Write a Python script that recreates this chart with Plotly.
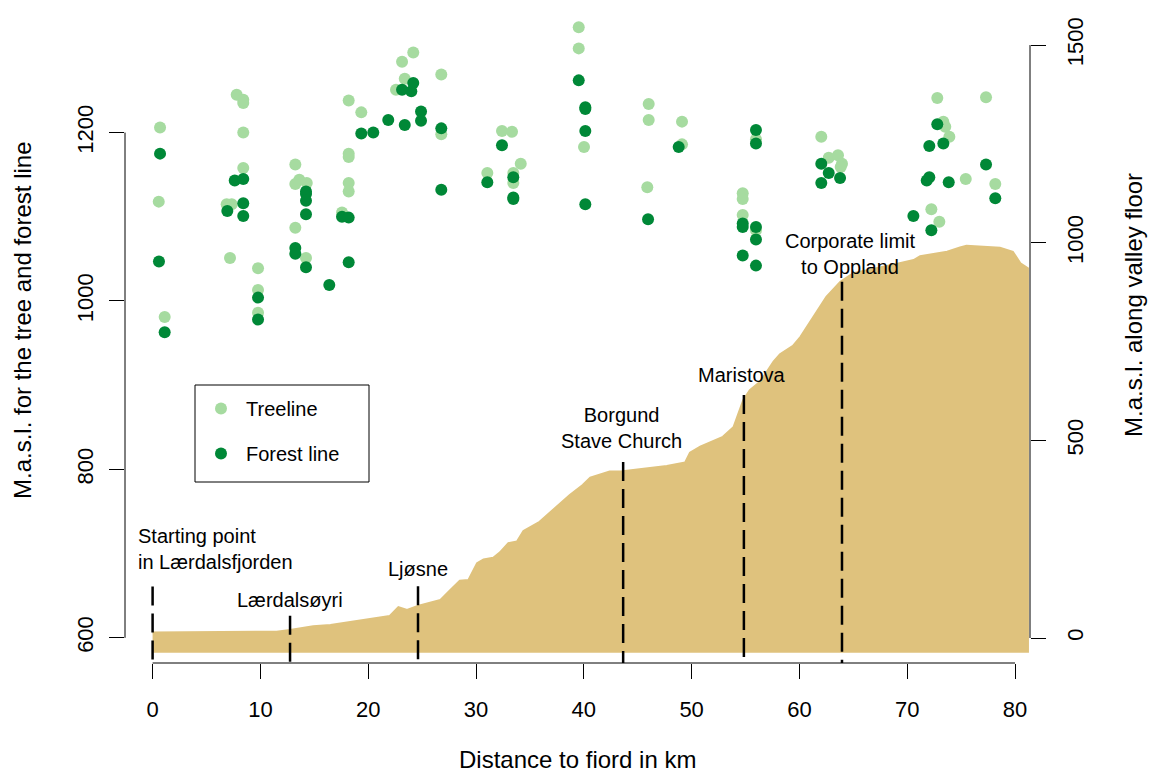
import plotly.graph_objects as go

# ---------------- data ----------------
tree_km = [0.69, 0.57, 1.12, 7.80, 8.41, 8.41, 8.41, 8.41, 6.87, 7.34, 7.18, 9.78, 9.78, 9.78,
           13.24, 13.61, 13.24, 14.30, 13.24, 14.23, 18.19, 19.36, 18.19, 18.19, 18.19, 18.19, 17.57,
           23.14, 24.18, 23.39, 22.58, 26.78, 26.78, 32.41, 33.34, 34.15, 31.05, 33.46, 33.46,
           39.53, 39.53, 40.02, 46.02, 46.02, 49.11, 49.11, 45.89, 54.74, 54.74, 54.74, 55.97, 55.97,
           62.03, 62.72, 63.58, 63.95, 63.83, 72.79, 73.35, 73.53, 73.91, 77.31, 75.43, 78.17,
           72.24, 72.98]
tree_m = [1206, 1118, 981, 1245, 1239, 1235, 1200, 1158, 1115, 1115, 1051, 1039, 1013, 986,
          1162, 1144, 1139, 1140, 1087, 1051, 1238, 1224, 1175, 1171, 1140, 1130, 1105,
          1284, 1295, 1264, 1251, 1269, 1198, 1202, 1201, 1163, 1152, 1152, 1140,
          1325, 1300, 1183, 1234, 1215, 1213, 1186, 1135, 1128, 1121, 1102, 1192, 1084,
          1195, 1170, 1173, 1163, 1159, 1241, 1213, 1207, 1195, 1242, 1145, 1139,
          1109, 1094]

forest_km = [0.69, 0.59, 1.12, 7.62, 8.41, 6.93, 8.41, 8.41, 9.78, 9.78,
             14.23, 14.23, 14.23, 14.23, 13.24, 13.24, 14.23, 16.39, 17.57, 18.19, 18.19,
             19.36, 20.47, 21.86, 23.39, 23.14, 24.00, 24.18, 24.90, 24.90, 26.78, 26.78,
             32.41, 31.05, 33.46, 33.46, 33.46, 39.53, 40.14, 40.14, 40.14, 40.14,
             48.80, 45.96, 55.97, 55.97, 54.74, 54.74, 55.97, 55.97, 54.74, 55.97,
             62.03, 62.72, 62.03, 63.77, 72.79, 72.05, 73.35, 72.05, 71.81, 73.85,
             77.31, 78.17, 70.57, 72.24]
forest_m = [1175, 1047, 963, 1143, 1145, 1107, 1116, 1101, 1004, 978,
            1130, 1127, 1119, 1103, 1063, 1056, 1040, 1019, 1100, 1099, 1046,
            1199, 1200, 1215, 1209, 1251, 1249, 1259, 1225, 1214, 1205, 1132,
            1185, 1141, 1147, 1123, 1121, 1262, 1230, 1228, 1202, 1115,
            1183, 1097, 1203, 1187, 1092, 1088, 1088, 1073, 1054, 1042,
            1163, 1152, 1140, 1146, 1210, 1184, 1187, 1147, 1143, 1141,
            1162, 1122, 1101, 1084]

# valley floor profile (distance km, metres above sea level)
floor_km = [0.0, 11.5, 12.75, 14.9, 16.5, 19.5, 22.0, 22.8, 23.6, 24.6, 26.7, 27.6, 28.5, 29.3,
            30.1, 30.7, 31.6, 32.2, 33.0, 33.8, 34.4, 35.9, 37.8, 38.7, 39.9, 40.6, 42.4, 43.6,
            47.7, 49.4, 49.85, 50.8, 52.9, 53.9, 54.8, 55.4, 56.35, 57.6, 58.2, 59.4, 60.1,
            61.3, 62.5, 63.8, 65.0, 69.3, 70.6, 71.2, 73.7, 74.9, 75.5, 78.6, 79.8, 80.5, 81.2]
floor_m = [14, 16, 20, 30, 33, 45, 56, 78, 71, 81, 96, 121, 145, 147,
           189, 199, 203, 216, 240, 244, 271, 294, 341, 362, 387, 406, 421, 422,
           435, 444, 469, 484, 509, 534, 602, 627, 648, 699, 718, 739, 762,
           811, 863, 901, 923, 948, 956, 966, 977, 988, 992, 987, 977, 948, 935]
floor_base = -35

site_names = ["Starting point<br>in Lærdalsfjorden", "Lærdalsøyri", "Ljøsne",
              "Borgund<br>Stave Church", "Maristova", "Corporate limit<br>to Oppland", "Tyinnkrysset"]
site_km = [0.0, 12.75, 24.62, 43.65, 54.85, 63.95]
site_line_top = [130, 56, 131, 445, 615, 901]

x_ticks = [0, 10, 20, 30, 40, 50, 60, 70, 80]
left_ticks = [600, 800, 1000, 1200]
right_ticks = [0, 500, 1000, 1500]

# ---------------- layout constants ----------------
TREE_COL = "#A6DBA0"
FOREST_COL = "#008837"
FLOOR_COL = "#DFC27D"
FONT = "Liberation Sans, Arial, Helvetica, sans-serif"

XR = [-2.56, 81.39]
YR = [570.07, 1333.7]
Y2R = [-63.24, 1563.4]

fig = go.Figure()

fig.add_trace(go.Scatter(
    x=floor_km + floor_km[::-1], y=floor_m + [floor_base] * len(floor_km),
    mode="lines", fill="toself", fillcolor=FLOOR_COL,
    line=dict(color=FLOOR_COL, width=2), yaxis="y2", showlegend=False, hoverinfo="skip"))

fig.add_trace(go.Scatter(
    x=tree_km, y=tree_m, mode="markers", name="Treeline", legendgroup="a",
    marker=dict(color=TREE_COL, size=12, line=dict(width=0))))
fig.add_trace(go.Scatter(
    x=forest_km, y=forest_m, mode="markers", name="Forest line", legendgroup="b",
    marker=dict(color=FOREST_COL, size=12, line=dict(width=0))))

shapes = []
# axis lines (R style: only between first and last tick)
shapes.append(dict(type="line", xref="x", yref="paper", x0=x_ticks[0], x1=x_ticks[-1], y0=0, y1=0,
                   line=dict(color="black", width=1)))
shapes.append(dict(type="line", xref="paper", yref="y", x0=0, x1=0, y0=left_ticks[0], y1=left_ticks[-1],
                   line=dict(color="black", width=1)))
shapes.append(dict(type="line", xref="paper", yref="y2", x0=1, x1=1, y0=right_ticks[0], y1=right_ticks[-1],
                   line=dict(color="black", width=1)))
# dashed site markers
for km, top in zip(site_km, site_line_top):
    shapes.append(dict(type="line", xref="x", yref="y2", x0=km, x1=km, y0=top, y1=Y2R[0],
                       line=dict(color="black", width=2.5, dash="19px,8px"), layer="above"))
# legend box
shapes.append(dict(type="rect", xref="paper", yref="paper",
                   x0=(195 - 125) / 905, x1=(369 - 125) / 905,
                   y0=(663 - 482) / 643, y1=(663 - 385) / 643,
                   line=dict(color="black", width=1), fillcolor="rgba(0,0,0,0)"))

ann = []
label_pos = [  # (km, elevation, xanchor)
    (-1.54, 224, "left"), (12.76, 97, "center"), (24.62, 174, "center"),
    (43.46, 532, "center"), (54.68, 665, "center"), (64.71, 972, "center"), (82.41, 872, "center")]
for name, (km, el, xa) in zip(site_names, label_pos):
    ann.append(dict(text=name, x=km, y=el, xref="x", yref="y2", xanchor=xa, yanchor="middle",
                    align=xa if xa != "center" else "center", showarrow=False,
                    font=dict(size=20, family=FONT, color="black")))

ann.append(dict(text="Distance to fiord in km", x=0.5, y=(663 - 759) / 643, xref="paper", yref="paper",
                xanchor="center", yanchor="middle", showarrow=False, font=dict(size=24, family=FONT)))
ann.append(dict(text="M.a.s.l. for the tree and forest line", x=(22 - 125) / 905, y=(663 - 320) / 643,
                xref="paper", yref="paper", xanchor="center", yanchor="middle", textangle=-90,
                showarrow=False, font=dict(size=24, family=FONT)))
ann.append(dict(text="M.a.s.l. along valley floor", x=(1133 - 125) / 905, y=(663 - 305) / 643,
                xref="paper", yref="paper", xanchor="center", yanchor="middle", textangle=-90,
                showarrow=False, font=dict(size=24, family=FONT)))

axis_common = dict(ticks="outside", ticklen=15, tickwidth=1, tickcolor="black",
                   showgrid=False, zeroline=False, showline=False, tickfont=dict(size=22, family=FONT))

fig.update_layout(
    width=1149, height=776,
    margin=dict(l=125, r=119, t=20, b=113),
    paper_bgcolor="white", plot_bgcolor="white",
    font=dict(family=FONT, color="black"),
    xaxis=dict(range=XR, tickvals=x_ticks, ticklabelstandoff=12, **axis_common),
    yaxis=dict(range=YR, tickvals=left_ticks, tickangle=-90, ticklabelstandoff=7, **axis_common),
    yaxis2=dict(range=Y2R, tickvals=right_ticks, tickangle=-90, overlaying="y", side="right",
                ticklabelstandoff=11, **axis_common),
    shapes=shapes, annotations=ann,
    showlegend=True,
    legend=dict(x=(196 - 125) / 905, y=(663 - 389) / 643, xanchor="left", yanchor="top",
                bgcolor="rgba(0,0,0,0)", borderwidth=0, font=dict(size=20, family=FONT),
                itemwidth=40, tracegroupgap=16),
)

fig.write_html("out.html")
